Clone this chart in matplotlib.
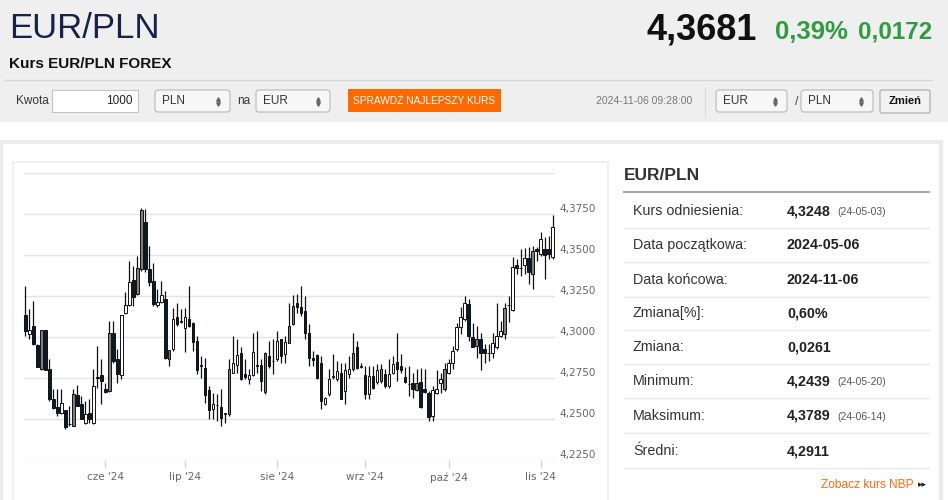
import matplotlib
matplotlib.use("Agg")
import matplotlib.pyplot as plt
import matplotlib.transforms as mtransforms
from matplotlib.patches import Rectangle, FancyBboxPatch
import numpy as np
import pandas as pd

# Daily EUR/PLN candles, 2024-05-06 .. 2024-11-06 (business days)
start_date = "2024-05-06"
end_date = "2024-11-06"

opens = [4.3133, 4.3017, 4.3068, 4.2950, 4.2803, 4.3043, 4.2807, 4.2624, 4.2575, 4.2538,
         4.2552, 4.2467, 4.2457, 4.2646, 4.2589, 4.2477, 4.2534, 4.2477, 4.2752, 4.2766,
         4.2685, 4.2671, 4.3027, 4.2864, 4.2766, 4.3145, 4.3194, 4.3349, 4.3261, 4.3414,
         4.3699, 4.3414, 4.3343, 4.3194, 4.3214, 4.3231, 4.2864, 4.2925, 4.3119, 4.3094,
         4.3052, 4.3109, 4.3088, 4.2976, 4.2824, 4.2813, 4.2677, 4.2559, 4.2585, 4.2575,
         4.2532, 4.2528, 4.2783, 4.2828, 4.2905, 4.2773, 4.2742, 4.2766, 4.2824, 4.2828,
         4.2665, 4.2885, 4.2854, 4.2864, 4.2986, 4.2895, 4.2966, 4.3078, 4.3210, 4.3180,
         4.3160, 4.3027, 4.2871, 4.2889, 4.2840, 4.2589, 4.2650, 4.2758, 4.2742, 4.2779,
         4.2671, 4.2773, 4.2803, 4.2936, 4.2820, 4.2766, 4.2650, 4.2762, 4.2726, 4.2732,
         4.2773, 4.2701, 4.2783, 4.2848, 4.2824, 4.2758, 4.2712, 4.2722, 4.2677, 4.2726,
         4.2681, 4.2661, 4.2518, 4.2661, 4.2718, 4.2681, 4.2783, 4.2840, 4.2925, 4.3058,
         4.3109, 4.3200, 4.2997, 4.2946, 4.2986, 4.2925, 4.2901, 4.2901, 4.2936, 4.3007,
         4.3017, 4.3194, 4.3166, 4.3438, 4.3420, 4.3438, 4.3479, 4.3384, 4.3536, 4.3506,
         4.3536, 4.3536, 4.3485]
highs = [4.3312, 4.3170, 4.3221, 4.2956, 4.3045, 4.3045, 4.2864, 4.2681, 4.2685, 4.2681,
         4.2555, 4.2579, 4.2685, 4.2707, 4.2640, 4.2610, 4.2620, 4.2803, 4.2946, 4.2864,
         4.2720, 4.3098, 4.3098, 4.2925, 4.3135, 4.3272, 4.3465, 4.3430, 4.3495, 4.3789,
         4.3781, 4.3553, 4.3451, 4.3292, 4.3343, 4.3282, 4.2921, 4.3174, 4.3210, 4.3170,
         4.3176, 4.3312, 4.3090, 4.3007, 4.2885, 4.2875, 4.2701, 4.2661, 4.2650, 4.2685,
         4.2534, 4.2864, 4.3007, 4.2986, 4.2936, 4.2864, 4.2803, 4.3027, 4.3037, 4.2864,
         4.2907, 4.2976, 4.2986, 4.3037, 4.2990, 4.3007, 4.3210, 4.3255, 4.3261, 4.3312,
         4.3251, 4.3078, 4.2915, 4.2895, 4.2885, 4.2632, 4.2803, 4.2895, 4.2854, 4.2844,
         4.2844, 4.2885, 4.3027, 4.2976, 4.2844, 4.2824, 4.2824, 4.2824, 4.2834, 4.2834,
         4.2803, 4.2864, 4.2885, 4.3027, 4.2895, 4.2820, 4.2824, 4.2783, 4.2803, 4.2813,
         4.2807, 4.2671, 4.2701, 4.2799, 4.2783, 4.2844, 4.2864, 4.2946, 4.3088, 4.3180,
         4.3251, 4.3231, 4.3088, 4.3068, 4.3027, 4.2956, 4.2956, 4.3027, 4.3206, 4.3098,
         4.3206, 4.3251, 4.3485, 4.3475, 4.3536, 4.3540, 4.3546, 4.3553, 4.3546, 4.3642,
         4.3607, 4.3614, 4.3744]
lows = [4.3007, 4.2986, 4.2952, 4.2818, 4.2799, 4.2797, 4.2610, 4.2559, 4.2518, 4.2528,
        4.2439, 4.2457, 4.2455, 4.2577, 4.2497, 4.2467, 4.2477, 4.2467, 4.2691, 4.2589,
        4.2661, 4.2667, 4.2844, 4.2722, 4.2742, 4.3139, 4.3190, 4.3190, 4.3259, 4.3404,
        4.3394, 4.3312, 4.3190, 4.3180, 4.3210, 4.2866, 4.2824, 4.2915, 4.3068, 4.3088,
        4.2909, 4.3058, 4.2915, 4.2773, 4.2752, 4.2600, 4.2497, 4.2497, 4.2487, 4.2460,
        4.2477, 4.2518, 4.2781, 4.2783, 4.2740, 4.2742, 4.2712, 4.2762, 4.2783, 4.2671,
        4.2655, 4.2813, 4.2773, 4.2854, 4.2844, 4.2840, 4.2962, 4.3074, 4.3149, 4.3129,
        4.2986, 4.2824, 4.2824, 4.2742, 4.2559, 4.2587, 4.2640, 4.2742, 4.2732, 4.2620,
        4.2589, 4.2752, 4.2793, 4.2803, 4.2813, 4.2624, 4.2624, 4.2681, 4.2712, 4.2722,
        4.2691, 4.2691, 4.2773, 4.2732, 4.2783, 4.2722, 4.2640, 4.2630, 4.2671, 4.2569,
        4.2661, 4.2487, 4.2487, 4.2650, 4.2661, 4.2671, 4.2773, 4.2803, 4.2915, 4.3017,
        4.3098, 4.2976, 4.2936, 4.2875, 4.2799, 4.2844, 4.2854, 4.2875, 4.2925, 4.2997,
        4.2986, 4.3092, 4.3160, 4.3384, 4.3369, 4.3384, 4.3322, 4.3292, 4.3465, 4.3495,
        4.3353, 4.3475, 4.3475]
closes = [4.3037, 4.3041, 4.2956, 4.2820, 4.3043, 4.2799, 4.2624, 4.2569, 4.2538, 4.2600,
          4.2450, 4.2467, 4.2650, 4.2579, 4.2501, 4.2532, 4.2497, 4.2701, 4.2752, 4.2732,
          4.2667, 4.3023, 4.2854, 4.2773, 4.3133, 4.3196, 4.3337, 4.3241, 4.3418, 4.3776,
          4.3414, 4.3333, 4.3200, 4.3214, 4.3255, 4.2869, 4.2919, 4.3109, 4.3078, 4.3094,
          4.3119, 4.3068, 4.2970, 4.2799, 4.2824, 4.2644, 4.2554, 4.2593, 4.2585, 4.2508,
          4.2532, 4.2803, 4.2844, 4.2889, 4.2742, 4.2756, 4.2766, 4.2909, 4.2824, 4.2732,
          4.2905, 4.2824, 4.2854, 4.2976, 4.2885, 4.2970, 4.3068, 4.3190, 4.3180, 4.3149,
          4.3027, 4.2875, 4.2858, 4.2752, 4.2610, 4.2630, 4.2742, 4.2758, 4.2793, 4.2624,
          4.2799, 4.2807, 4.2905, 4.2813, 4.2820, 4.2650, 4.2762, 4.2691, 4.2799, 4.2807,
          4.2701, 4.2773, 4.2834, 4.2803, 4.2799, 4.2726, 4.2712, 4.2681, 4.2718, 4.2575,
          4.2665, 4.2514, 4.2675, 4.2685, 4.2742, 4.2807, 4.2844, 4.2915, 4.3064, 4.3119,
          4.3210, 4.3007, 4.2942, 4.2986, 4.2901, 4.2901, 4.2901, 4.2966, 4.3007, 4.3037,
          4.3174, 4.3194, 4.3424, 4.3418, 4.3420, 4.3479, 4.3394, 4.3526, 4.3526, 4.3597,
          4.3500, 4.3506, 4.3669]
# rising candles the site draws grey instead of hollow
gray_days = [4, 12, 21, 28, 29, 36, 51, 60, 66, 67, 82, 89, 98, 105, 113, 120, 127]

y_ticks = [4.225, 4.25, 4.275, 4.30, 4.325, 4.35, 4.375, 4.40]
month_names = ["maj", "cze", "lip", "sie", "wrz", "paź", "lis"]

# quote header
pair = "EUR/PLN"
last_rate = "4,3681"
change_pct = "0,39%"
change_abs = "0,0172"
quote_time = "2024-11-06 09:28:00"

# summary table
row_labels = ["Kurs odniesienia:", "Data początkowa:", "Data końcowa:", "Zmiana[%]:",
              "Zmiana:", "Minimum:", "Maksimum:", "Średni:"]
row_values = ["4,3248", "2024-05-06", "2024-11-06", "0,60%", "0,0261", "4,2439", "4,3789", "4,2911"]
row_notes = ["(24-05-03)", "", "", "", "", "(24-05-20)", "(24-06-14)", ""]

plt.rcParams["font.family"] = ["Liberation Sans", "DejaVu Sans"]

W, H = 948, 500
fig = plt.figure(figsize=(W / 100, H / 100), dpi=100)
fig.patch.set_facecolor("white")

# page layer in pixel coordinates (y down)
pg = fig.add_axes([0, 0, 1, 1])
pg.set_xlim(0, W)
pg.set_ylim(H, 0)
pg.axis("off")


def box(x0, y0, x1, y1, fc, ec, lw=1, r=0, z=1):
    if r:
        p = FancyBboxPatch((x0, y0), x1 - x0, y1 - y0, boxstyle=f"round,pad=0,rounding_size={r}",
                           fc=fc, ec=ec, lw=lw, zorder=z)
    else:
        p = Rectangle((x0, y0), x1 - x0, y1 - y0, fc=fc, ec=ec, lw=lw, zorder=z)
    pg.add_patch(p)


def select(x0, x1, label):
    box(x0, 90, x1, 112, "#f7f7f7", "#b8b8b8", 0.8, r=3, z=2)
    pg.text(x0 + 7, 101, label, fontsize=8.5, color="#333333", va="center", zorder=3)
    pg.plot([x1 - 12], [98.5], marker="^", ms=2.5, color="#666666", zorder=3)
    pg.plot([x1 - 12], [103.5], marker="v", ms=2.5, color="#666666", zorder=3)


# header band
box(0, 0, W, 122, "#efefef", "none")
pg.text(9, 29, pair, fontsize=25, color="#142346", va="center")
pg.text(757, 30, last_rate, fontsize=26, weight="bold", color="#111111", va="center", ha="right")
pg.text(775, 32, change_pct, fontsize=18.5, weight="bold", color="#2e9d40", va="center")
pg.text(932, 32, change_abs, fontsize=17.5, weight="bold", color="#2e9d40", va="center", ha="right")
pg.text(9, 64, "Kurs EUR/PLN FOREX", fontsize=11, weight="bold", color="#111111", va="center")
pg.plot([5, 932], [80, 80], color="#d6d6d6", lw=1)

# converter controls
pg.text(16, 101, "Kwota", fontsize=8.5, color="#333333", va="center")
box(52, 90, 138, 112, "white", "#c4c4c4", 0.8, z=2)
pg.text(133, 101, "1000", fontsize=8.5, color="#222222", va="center", ha="right", zorder=3)
select(155, 230, "PLN")
pg.text(237, 101, "na", fontsize=8.5, color="#333333", va="center")
select(256, 330, "EUR")
box(348, 89, 501, 112, "#ff6a00", "none", z=2)
pg.text(424.5, 101, "SPRAWDŹ NAJLEPSZY KURS", fontsize=7.3, color="white",
        va="center", ha="center", zorder=3)
pg.text(692, 101, quote_time, fontsize=7.5, color="#777777", va="center", ha="right")
pg.plot([705, 705], [88, 117], color="#dcdcdc", lw=0.8)
select(716, 787, "EUR")
pg.text(795, 102, "/", fontsize=9, color="#444444", va="center")
select(801, 873, "PLN")
box(880, 90, 930, 113, "#f2f2f2", "#a8a8a8", 0.8, r=2, z=2)
pg.text(905, 101.5, "Zmień", fontsize=8, weight="bold", color="#111111",
        va="center", ha="center", zorder=3)

# outer panel and chart frame
box(1.5, 142, 941, 505, "white", "#ebebeb", 3)
box(13, 162, 608, 505, "white", "#f0f0f0", 1.5, z=1.5)

# summary table on the right
pg.text(624, 176, pair, fontsize=12.5, weight="bold", color="#333333", va="center")
pg.plot([624, 929], [192, 192], color="#a9a9a9", lw=1.5)
row_y = [211, 245, 280, 313, 347, 381, 416, 451]
for i, (lab, val, note) in enumerate(zip(row_labels, row_values, row_notes)):
    y = row_y[i]
    pg.text(633, y, lab, fontsize=10.3, color="#333333", va="center")
    pg.text(787, y, val, fontsize=10.3, weight="bold", color="#222222", va="center")
    if note:
        pg.text(837, y + 1, note, fontsize=7.5, color="#555555", va="center")
    pg.plot([624, 929], [y + 17, y + 17], color="#e8e8e8", lw=1)
pg.text(914, 485, "Zobacz kurs NBP", fontsize=8.6, color="#ff6a13", va="center", ha="right")
pg.text(918, 485, "▸▸", fontsize=6.5, family=["DejaVu Sans"], color="#222222", va="center")

# candlestick chart
dates = pd.bdate_range(start_date, end_date)
o = np.array(opens)
h = np.array(highs)
l = np.array(lows)
c = np.array(closes)
x = np.arange(len(dates))

ax = fig.add_axes([24 / W, 1 - 460 / H, (555 - 24) / W, (460 - 173) / H])
ax.patch.set_alpha(0)
ax.set_xlim(-0.35, len(dates) - 0.4)
ax.set_ylim(y_ticks[0], y_ticks[-1])
for s in ax.spines.values():
    s.set_visible(False)

for v in y_ticks[1:]:
    ax.axhline(v, color="#e3e3e3", lw=1, zorder=0)
ax.axhline(y_ticks[0], color="#ccd6eb", lw=1, zorder=0)

down = c < o
is_gray = np.zeros(len(x), bool)
is_gray[gray_days] = True
face = np.where(down, "#0c1a30", np.where(is_gray, "#7f7f7f", "white"))
body_lo = np.minimum(o, c)
body_h = np.maximum(np.abs(c - o), 0.00025)

ax.vlines(x, l, h, color="#111111", lw=0.9, zorder=2)
ax.bar(x, body_h, bottom=body_lo, width=0.66, color=face, edgecolor="#111111", lw=0.7, zorder=3)

# y labels sit on the right, a little above each gridline
lab_tr = mtransforms.offset_copy(mtransforms.blended_transform_factory(ax.transAxes, ax.transData),
                                 fig=fig, x=4, y=5, units="dots")
for v in y_ticks[:-1]:
    ax.text(1.0, v, f"{v:.4f}".replace(".", ","), transform=lab_tr, fontsize=7.5,
            family=["DejaVu Sans"], color="#666666", va="center", ha="left")

# month ticks at first trading day of each month
ax.set_yticks([])
first_idx = [i for i in range(1, len(dates)) if dates[i].month != dates[i - 1].month]
ax.set_xticks(first_idx)
ax.set_xticklabels([f"{month_names[dates[i].month - 5]} '{dates[i].strftime('%y')}" for i in first_idx],
                   fontsize=7.5, color="#666666", family=["DejaVu Sans"])
ax.tick_params(axis="x", length=6, width=1, color="#ccd6eb", pad=3)

fig.savefig("out.png", dpi=100)
